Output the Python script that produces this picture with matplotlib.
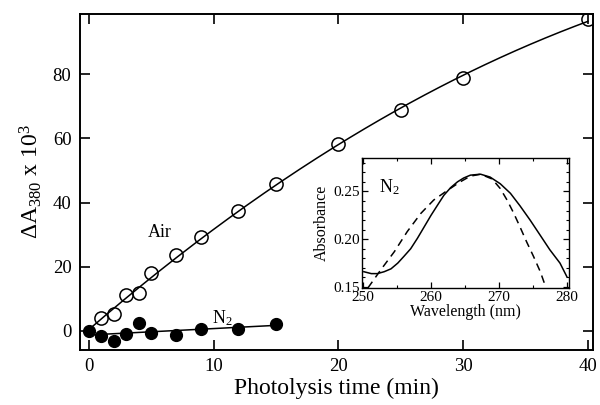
import numpy as np
import matplotlib
matplotlib.use('Agg')
import matplotlib.pyplot as plt
from matplotlib.ticker import MultipleLocator

plt.rcParams['font.family'] = ['Liberation Serif', 'DejaVu Serif']
plt.rcParams['mathtext.fontset'] = 'custom'
plt.rcParams['mathtext.rm'] = 'Liberation Serif'
plt.rcParams['mathtext.it'] = 'Liberation Serif:italic'

# main panel data
air_t = [0, 1, 2, 3, 4, 5, 7, 9, 12, 15, 20, 25, 30, 40]
air_dA = [0, 4.0, 5.3, 11.2, 11.8, 18.0, 23.6, 29.2, 37.3, 45.8, 58.2, 68.8, 78.8, 97.2]
n2_t = [0, 1, 2, 3, 4, 5, 7, 9, 12, 15]
n2_dA = [0, -1.8, -3.1, -1.0, 2.5, -0.6, -1.2, 0.6, 0.6, 2.2]

# inset spectra
wl_solid = [250.1, 251.2, 252.1, 253.1, 254.1, 255.1, 256.0, 257.0, 258.0, 259.0, 260.0,
            260.9, 261.9, 262.9, 263.9, 264.8, 265.8, 267.3, 268.7, 270.2, 271.7, 273.1,
            274.6, 276.1, 277.5, 279.0, 280.0]
abs_solid = [0.166, 0.164, 0.164, 0.166, 0.169, 0.175, 0.182, 0.190, 0.201, 0.213, 0.225,
             0.235, 0.246, 0.254, 0.260, 0.264, 0.267, 0.268, 0.265, 0.258, 0.248, 0.235,
             0.220, 0.204, 0.189, 0.175, 0.161]
wl_dash = [250.7, 252.6, 254.6, 256.5, 258.5, 260.4, 262.4, 264.3, 265.8, 267.3, 269.0,
           270.2, 271.2, 272.2, 273.1, 274.1, 275.1, 276.1, 276.8]
abs_dash = [0.149, 0.168, 0.187, 0.208, 0.227, 0.241, 0.251, 0.260, 0.266, 0.268, 0.263,
            0.253, 0.241, 0.227, 0.213, 0.197, 0.182, 0.166, 0.152]

fig = plt.figure(figsize=(6, 4.05), dpi=100)
ax = fig.add_axes([0.133, 0.136, 0.855, 0.829])

# fitted curves
pa = np.polyfit(air_t, air_dA, 2)
ta = np.linspace(0, 40, 200)
ax.plot(ta, np.polyval(pa, ta), color='black', lw=1.1, zorder=2)
pn = np.polyfit(n2_t, n2_dA, 1)
tn = np.linspace(0.5, 15, 50)
ax.plot(tn, np.polyval(pn, tn), color='black', lw=1.1, zorder=2)

ax.plot(air_t[1:], air_dA[1:], 'o', ms=9.5, mfc='none', mec='black', mew=1.1, zorder=3)
ax.plot(n2_t, n2_dA, 'o', ms=8.5, mfc='black', mec='black', zorder=4)

ax.set_xlim(-0.72, 40.4)
ax.set_ylim(-6, 98.8)
ax.set_xticks([0, 10, 20, 30, 40])
ax.set_yticks([0, 20, 40, 60, 80])
ax.tick_params(direction='in', length=7, width=1.2, top=True, right=True,
               labelsize=13.5, pad=6)
for s in ax.spines.values():
    s.set_linewidth(1.4)
ax.set_xlabel('Photolysis time (min)', fontsize=17, labelpad=2)
ax.set_ylabel(r'$\Delta$A$_{380}$ x 10$^{3}$', fontsize=17, labelpad=6)

ax.text(5.7, 30.8, 'Air', fontsize=13, ha='center', va='center')
ax.text(10.7, 4.0, r'N$_2$', fontsize=13, ha='center', va='center')

# inset
ins = fig.add_axes([0.603, 0.289, 0.345, 0.321])
ins.plot(wl_solid, abs_solid, color='black', lw=1.1)
ins.plot(wl_dash, abs_dash, color='black', lw=1.1, dashes=(5, 3.5))
ins.set_xlim(249.8, 280.3)
ins.set_ylim(0.149, 0.285)
ins.set_xticks([250, 260, 270, 280])
ins.set_yticks([0.15, 0.20, 0.25])
ins.set_yticklabels(['0.15', '0.20', '0.25'])
ins.xaxis.set_minor_locator(MultipleLocator(5))
ins.yaxis.set_minor_locator(MultipleLocator(0.01))
ins.tick_params(which='both', direction='in', top=True, right=True, labelsize=11)
ins.tick_params(axis='x', pad=2.5)
ins.tick_params(axis='y', pad=1.5)
ins.tick_params(which='major', length=4, width=0.9)
ins.tick_params(which='minor', length=2, width=0.8)
for s in ins.spines.values():
    s.set_linewidth(1.0)
ins.set_xlabel('Wavelength (nm)', fontsize=11.5, labelpad=0)
ins.set_ylabel('Absorbance', fontsize=11.5, labelpad=2)
ins.text(253.8, 0.254, r'N$_2$', fontsize=13, ha='center', va='center')

fig.savefig('out.png', dpi=100)
